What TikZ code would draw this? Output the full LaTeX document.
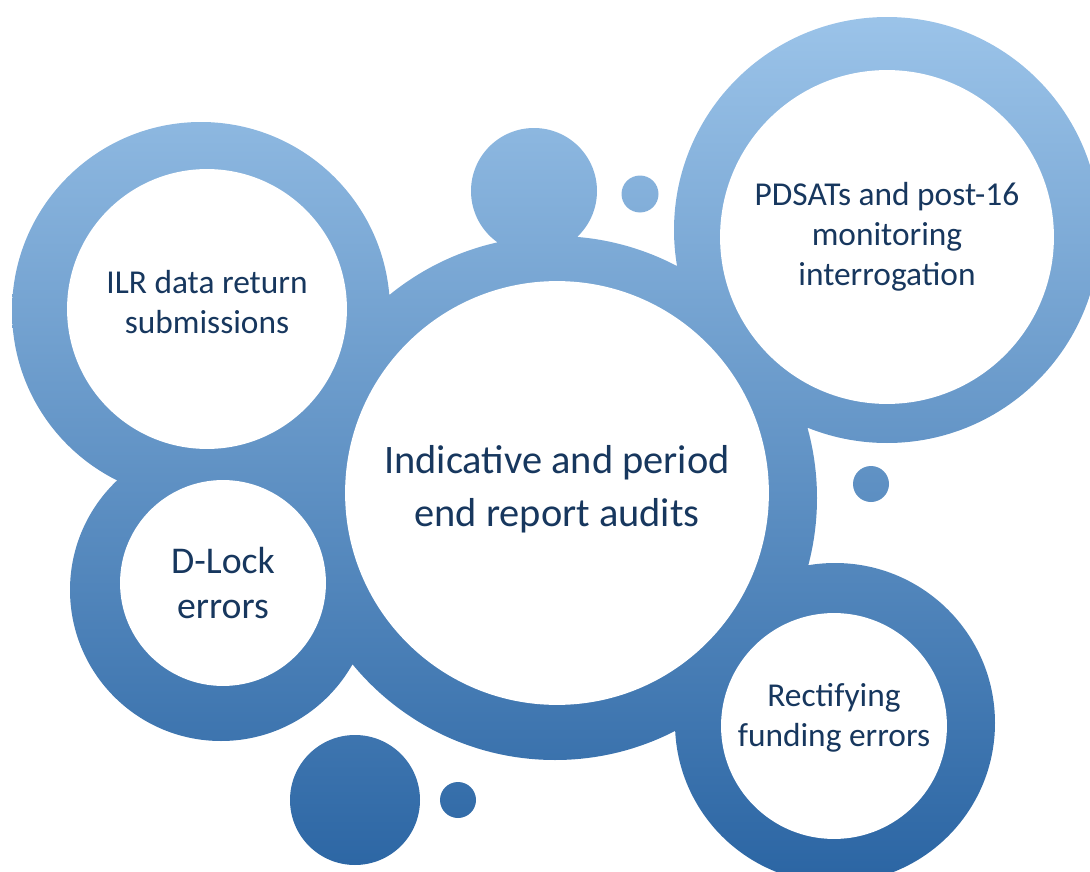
\documentclass[tikz,border=0pt]{standalone}
\usepackage{fontspec}
\setmainfont{Carlito}
\usetikzlibrary{shapes,positioning}
\definecolor{ringtop}{RGB}{157,197,234}
\definecolor{ringmid}{RGB}{100,158,213}
\definecolor{ringbot}{RGB}{44,102,164}
\definecolor{navy}{RGB}{23,55,94}
\def\Hub{Indicative and period \\ end report audits}

\begin{document}
\begin{tikzpicture}[% one unit is one pixel of the picture, y runs downwards
					x=0.02cm,y=-0.02cm,
					every node/.style={
						align=center,  		% use this so that the "\\" for line break works
						text=navy
						},
					hole/.style={circle,fill=white,inner sep=0pt,minimum size=0.04cm*#1},
					small/.style={font=\fontsize{19}{22.8}\selectfont}
					]
\useasboundingbox (0,0) rectangle (1090,872);
% all rings and bubbles share one gradient
\begin{scope}
\clip (555,498) circle (262)
      (201,311) circle (189)
      (887,230) circle (213)
      (221,590) circle (151)
      (835,723) circle (160)
      (534,191) circle (63)
      (640,194) circle (18.5)
      (871,484) circle (18)
      (355,800) circle (65)
      (458,800) circle (18);
\shade[top color=ringtop,middle color=ringmid,bottom color=ringbot] (0,0) rectangle (1090,872);
\end{scope}
% white centres
\node[hole=212](Hub) at (557,493) {};
\node[hole=140](ILR) at (207,309) {};
\node[hole=167](PDSAT) at (887,237) {};
\node[hole=103](DLock) at (223,583) {};
\node[hole=113](Fund) at (834,726) {};
% texts
\node[font=\fontsize{23}{30.2}\selectfont](HubText) at ([yshift=2pt]Hub) {\Hub};
\node[small](ILRText) at ([yshift=4pt]ILR) {ILR data return \\ submissions};
\node[small](PDSATText) at (PDSAT) {PDSATs and post-16 \\ monitoring \\ interrogation};
\node[font=\fontsize{21.5}{25.6}\selectfont](DLockText) at (DLock) {D-Lock \\ errors};
\node[small](FundText) at ([yshift=4.5pt]Fund) {Rectifying \\ funding errors};
\end{tikzpicture}
\end{document}
